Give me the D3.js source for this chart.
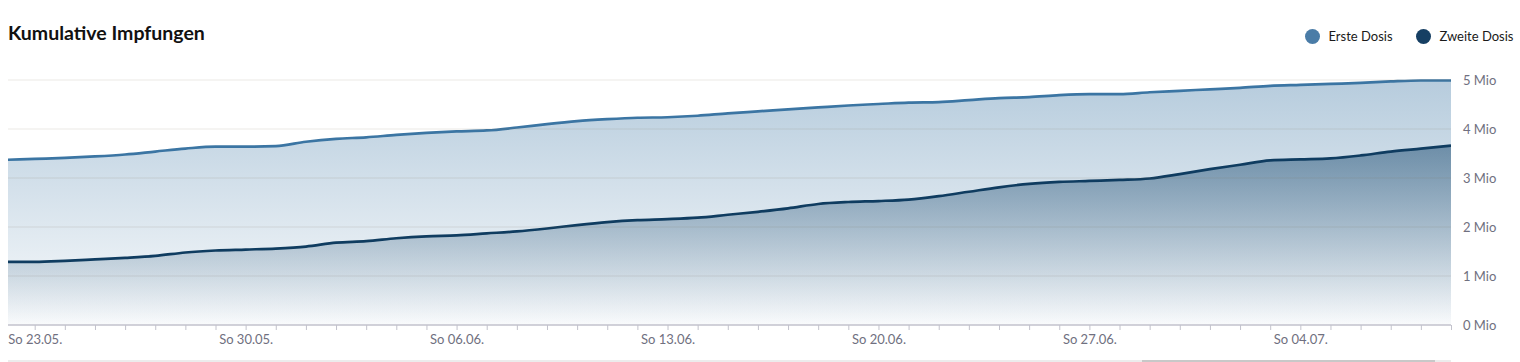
<!DOCTYPE html>
<html>
<head>
<meta charset="utf-8">
<script src="https://cdn.jsdelivr.net/npm/d3@7"></script>
<style>
body { margin: 0; background: #fff; }
svg { display: block; font-family: Lato, "Noto Sans", sans-serif; }
</style>
</head>
<body>
<script>
// data, values in Mio
var days = ["2021-05-22","2021-05-23","2021-05-24","2021-05-25","2021-05-26","2021-05-27","2021-05-28",
  "2021-05-29","2021-05-30","2021-05-31","2021-06-01","2021-06-02","2021-06-03","2021-06-04",
  "2021-06-05","2021-06-06","2021-06-07","2021-06-08","2021-06-09","2021-06-10","2021-06-11",
  "2021-06-12","2021-06-13","2021-06-14","2021-06-15","2021-06-16","2021-06-17","2021-06-18",
  "2021-06-19","2021-06-20","2021-06-21","2021-06-22","2021-06-23","2021-06-24","2021-06-25",
  "2021-06-26","2021-06-27","2021-06-28","2021-06-29","2021-06-30","2021-07-01","2021-07-02",
  "2021-07-03","2021-07-04","2021-07-05","2021-07-06","2021-07-07","2021-07-08","2021-07-09"];

var ersteDosis = [3.37,3.39,3.41,3.44,3.48,3.54,3.60,3.64,3.64,3.65,3.74,3.80,3.83,3.88,
  3.92,3.95,3.97,4.03,4.10,4.16,4.20,4.23,4.24,4.27,4.32,4.36,4.40,4.44,
  4.48,4.51,4.54,4.55,4.59,4.63,4.65,4.69,4.71,4.71,4.75,4.78,4.81,4.84,
  4.88,4.90,4.92,4.94,4.97,4.99,4.99];

var zweiteDosis = [1.29,1.29,1.31,1.34,1.37,1.41,1.48,1.52,1.54,1.56,1.60,1.68,1.71,1.77,
  1.81,1.83,1.87,1.91,1.97,2.04,2.10,2.14,2.16,2.19,2.25,2.31,2.38,2.47,
  2.51,2.53,2.56,2.63,2.72,2.81,2.88,2.92,2.94,2.96,2.99,3.08,3.18,3.27,
  3.36,3.38,3.40,3.46,3.54,3.60,3.66];

var yTicks = [0, 1, 2, 3, 4, 5];
var seriesNames = ["Erste Dosis", "Zweite Dosis"];
var seriesColors = ["#3b75a3", "#0f3c60"];

var W = 1520, H = 362;
var padL = 8, padR = 1451, padT = 80, padB = 325;

var parseDay = d3.timeParse("%Y-%m-%d");
var de = d3.timeFormatLocale({
  dateTime: "%A, der %e. %B %Y, %X", date: "%d.%m.%Y", time: "%H:%M:%S",
  periods: ["AM", "PM"],
  days: ["Sonntag","Montag","Dienstag","Mittwoch","Donnerstag","Freitag","Samstag"],
  shortDays: ["So","Mo","Di","Mi","Do","Fr","Sa"],
  months: ["Januar","Februar","März","April","Mai","Juni","Juli","August","September","Oktober","November","Dezember"],
  shortMonths: ["Jan","Feb","Mrz","Apr","Mai","Jun","Jul","Aug","Sep","Okt","Nov","Dez"]
});
var fmtTick = de.format("%a %d.%m.");

var data = days.map(function(d, i) {
  return { date: parseDay(d), erste: ersteDosis[i], zweite: zweiteDosis[i] };
});

var svg = d3.select("body").append("svg")
  .attr("width", W)
  .attr("height", H);

var defs = svg.append("defs");
defs.append("clipPath").attr("id", "plotclip")
  .append("rect").attr("x", padL).attr("y", 0).attr("width", padR - padL).attr("height", padB + 1);

var g1 = defs.append("linearGradient").attr("id", "gradErste")
  .attr("x1", 0).attr("y1", 0).attr("x2", 0).attr("y2", 1);
g1.append("stop").attr("offset", 0).attr("stop-color", "#3b75a3").attr("stop-opacity", 0.37);
g1.append("stop").attr("offset", 1).attr("stop-color", "#3b75a3").attr("stop-opacity", 0.03);

var g2 = defs.append("linearGradient").attr("id", "gradZweite")
  .attr("x1", 0).attr("y1", 0).attr("x2", 0).attr("y2", 1);
g2.append("stop").attr("offset", 0).attr("stop-color", "#1a4a70").attr("stop-opacity", 0.52);
g2.append("stop").attr("offset", 1).attr("stop-color", "#1a4a70").attr("stop-opacity", 0);

// x domain starts a bit after 22.05 (visible window of the navigator)
var xScale = d3.scaleTime()
  .domain([new Date(2021, 4, 22, 2, 44), parseDay("2021-07-09")])
  .range([padL, padR]);

var yScale = d3.scaleLinear()
  .domain([0, 5])
  .range([padB, padT]);

// title
svg.append("text")
  .attr("x", 8).attr("y", 40)
  .attr("font-size", 19.5).attr("font-weight", 700)
  .attr("fill", "#111")
  .text("Kumulative Impfungen");

// legend
var legend = svg.append("g");
var legX = [1312.5, 1423.5];
seriesNames.forEach(function(n, i) {
  legend.append("circle").attr("cx", legX[i]).attr("cy", 36.5).attr("r", 7.5)
    .attr("fill", i == 0 ? "#4a7ca7" : "#163f63");
  legend.append("text").attr("x", legX[i] + 16).attr("y", 41)
    .attr("font-size", 13).attr("fill", "#1a1a1a").text(n);
});

// areas + lines
var plot = svg.append("g").attr("clip-path", "url(#plotclip)");

var areaErste = d3.area().curve(d3.curveMonotoneX)
  .x(function(d) { return xScale(d.date); })
  .y0(yScale(0))
  .y1(function(d) { return yScale(d.erste); });
var areaZweite = d3.area().curve(d3.curveMonotoneX)
  .x(function(d) { return xScale(d.date); })
  .y0(yScale(0))
  .y1(function(d) { return yScale(d.zweite); });

plot.append("path").datum(data).attr("d", areaErste).attr("fill", "url(#gradErste)");
plot.append("path").datum(data).attr("d", areaZweite).attr("fill", "url(#gradZweite)");

// grid lines (drawn over the areas)
svg.append("g").selectAll("line")
  .data(yTicks.slice(1))
  .enter().append("line")
  .attr("x1", padL).attr("x2", padR)
  .attr("y1", function(d) { return yScale(d); })
  .attr("y2", function(d) { return yScale(d); })
  .attr("stroke", "rgba(120,110,80,0.1)")
  .attr("stroke-width", 1.5);

var lineErste = d3.line().curve(d3.curveMonotoneX)
  .x(function(d) { return xScale(d.date); })
  .y(function(d) { return yScale(d.erste); });
var lineZweite = d3.line().curve(d3.curveMonotoneX)
  .x(function(d) { return xScale(d.date); })
  .y(function(d) { return yScale(d.zweite); });

plot.append("path").datum(data).attr("d", lineErste)
  .attr("fill", "none").attr("stroke", seriesColors[0]).attr("stroke-width", 2.7);
plot.append("path").datum(data).attr("d", lineZweite)
  .attr("fill", "none").attr("stroke", seriesColors[1]).attr("stroke-width", 2.7);

// x axis
var tickDays = d3.timeDay.range(parseDay("2021-05-23"), d3.timeDay.offset(parseDay("2021-07-09"), 1));
var xAxis = d3.axisBottom(xScale)
  .tickValues(tickDays)
  .tickSize(5)
  .tickPadding(5)
  .tickFormat(function(d) { return d.getDay() == 0 ? fmtTick(d) : ""; });

var gx = svg.append("g")
  .attr("transform", "translate(0," + padB + ")")
  .call(xAxis);
gx.select(".domain").attr("d", "M" + padL + ",0H" + padR).attr("stroke", "#c2c2cc").attr("stroke-width", 1.5);
gx.selectAll(".tick line").attr("stroke", "#c2c2cc");
gx.selectAll("text").attr("font-size", 13).attr("fill", "#707080").attr("font-family", "Lato, sans-serif");

// y axis (right)
var yAxis = d3.axisRight(yScale)
  .tickValues(yTicks)
  .tickSize(0)
  .tickPadding(12)
  .tickFormat(function(d) { return d + " Mio"; });
var gy = svg.append("g")
  .attr("transform", "translate(" + padR + ",0)")
  .call(yAxis);
gy.select(".domain").remove();
gy.selectAll("text").attr("font-size", 13).attr("fill", "#707080").attr("font-family", "Lato, sans-serif");

// navigator scrollbar at the bottom
svg.append("line").attr("x1", padL).attr("x2", padR).attr("y1", 361).attr("y2", 361)
  .attr("stroke", "#ececec").attr("stroke-width", 2);
svg.append("line").attr("x1", 1142).attr("x2", 1435).attr("y1", 361).attr("y2", 361)
  .attr("stroke", "#c8c8c8").attr("stroke-width", 2);
</script>
</body>
</html>
